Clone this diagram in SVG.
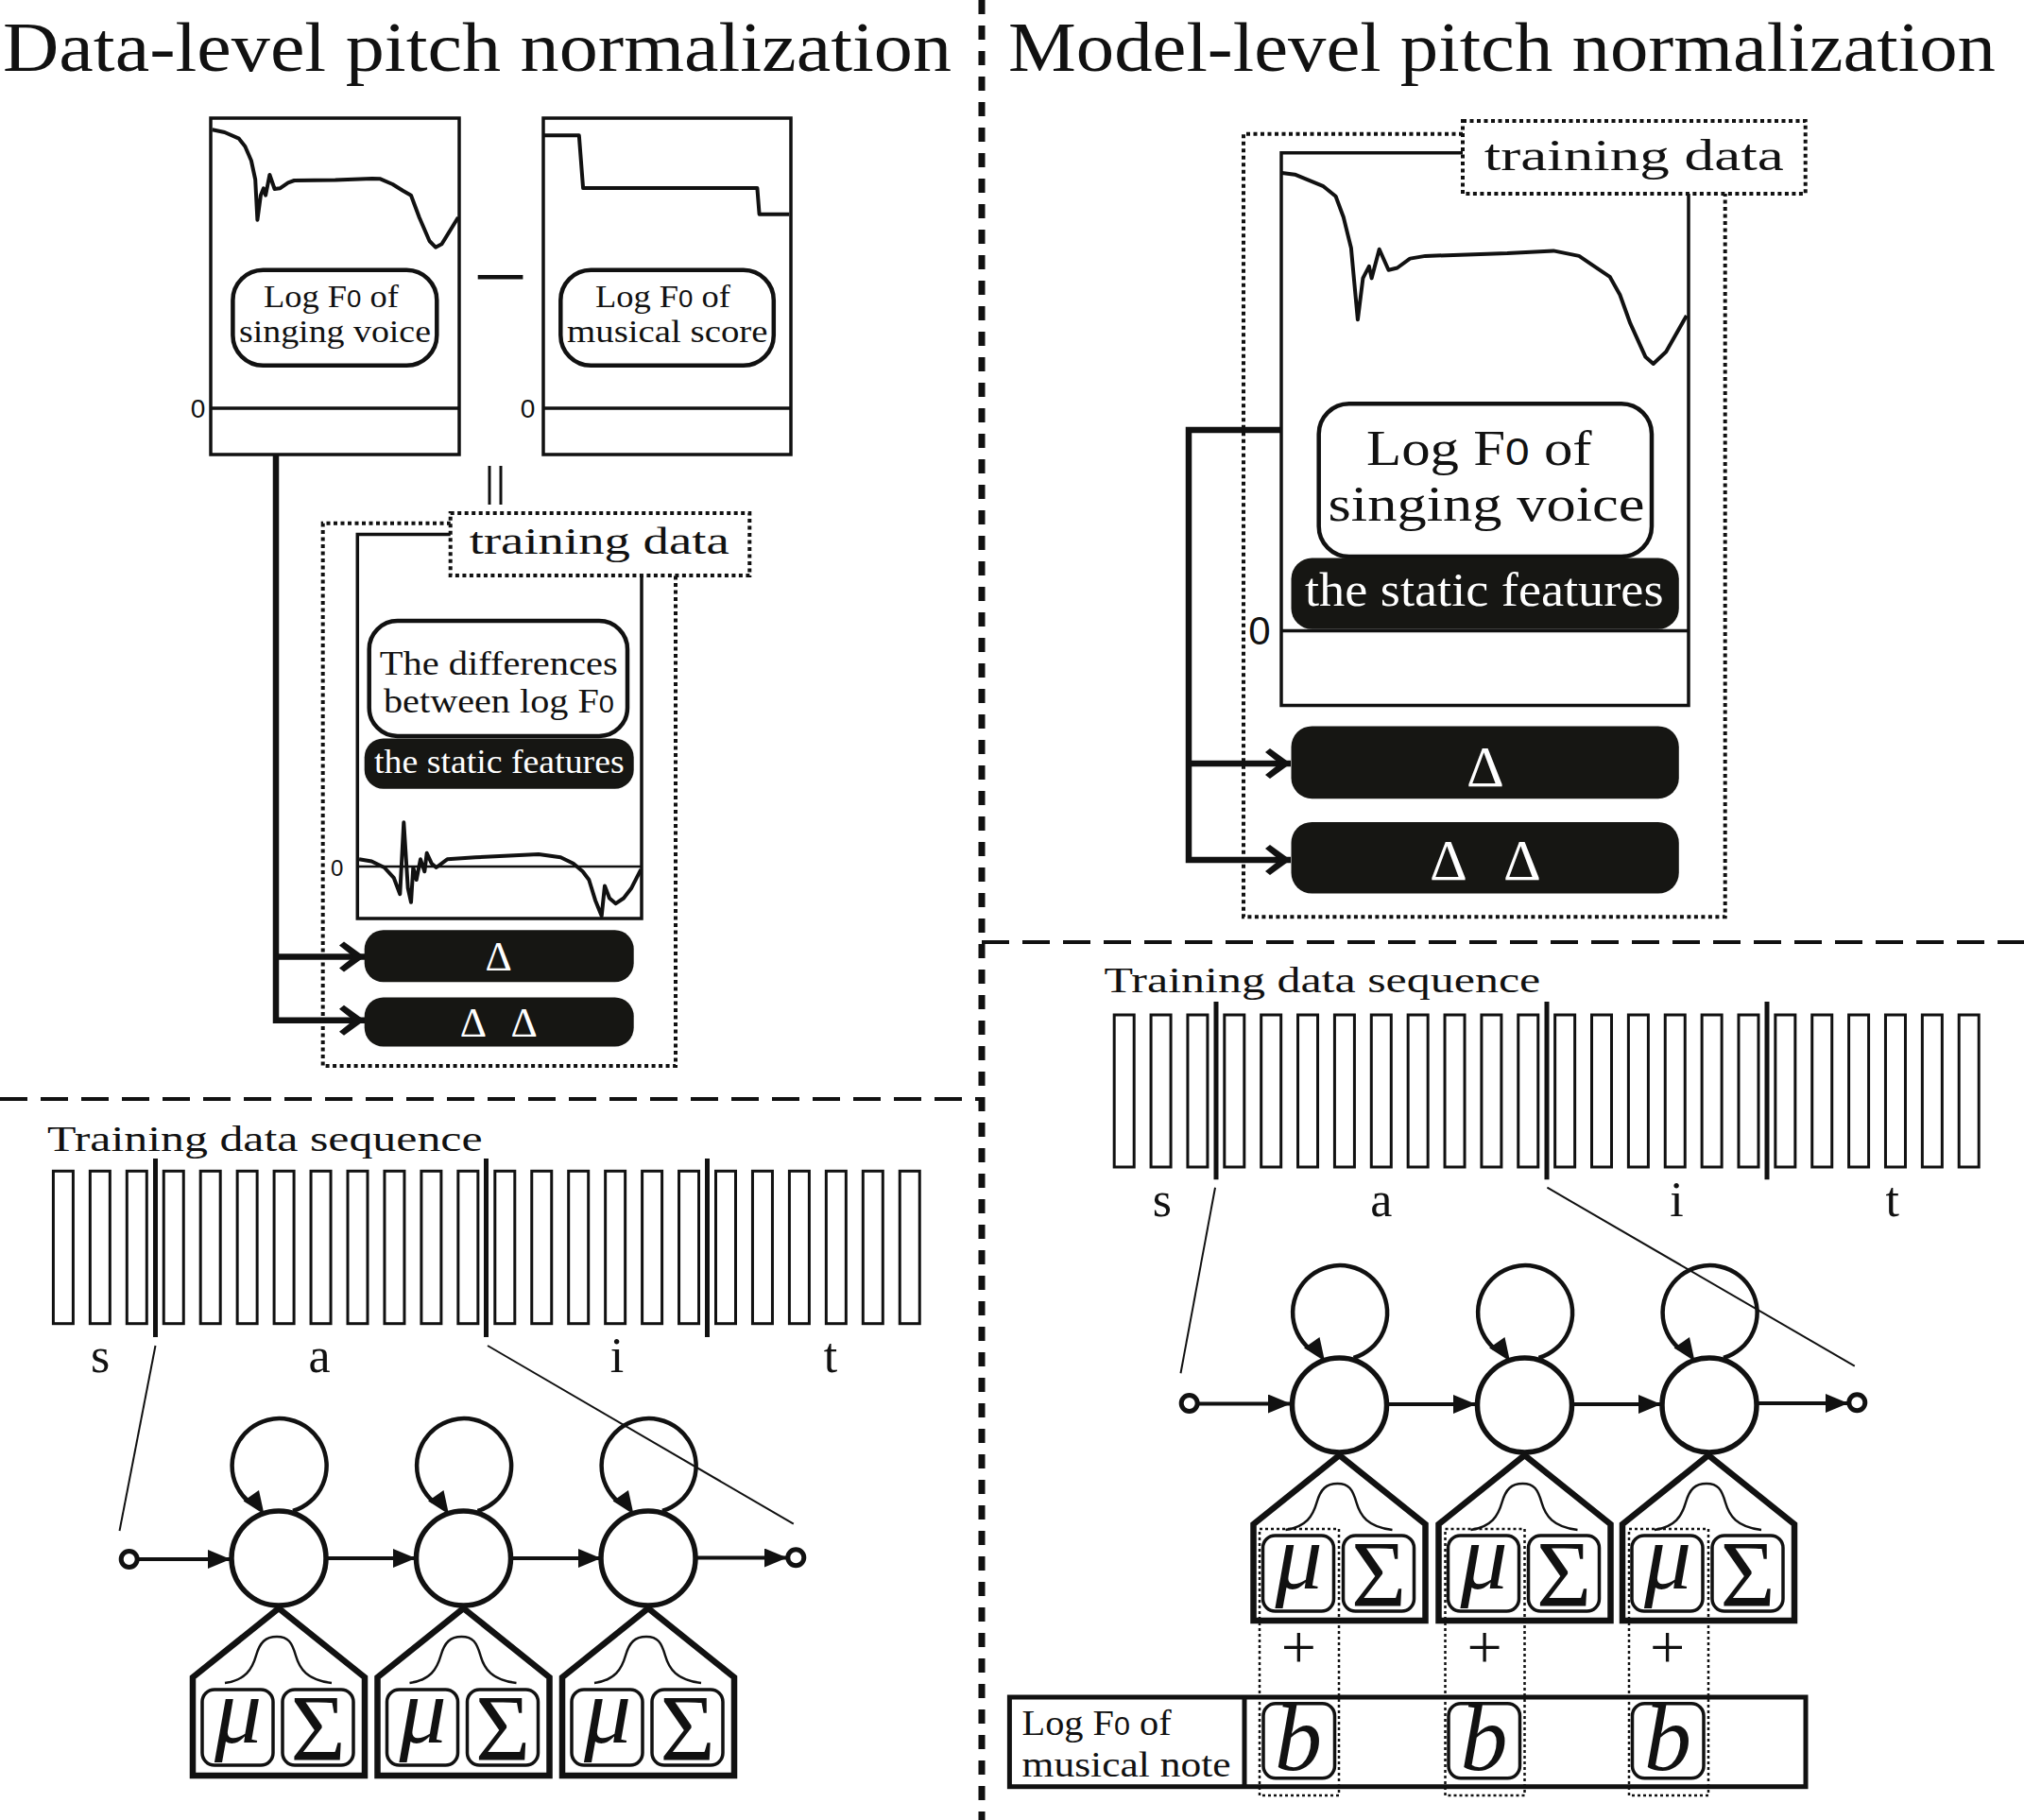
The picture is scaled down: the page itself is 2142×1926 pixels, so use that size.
<svg xmlns="http://www.w3.org/2000/svg" width="2142" height="1926" viewBox="0 0 2142 1926">
<defs>
<style>
.t{font-family:"Liberation Serif","Times New Roman",serif;fill:#111}
.s{font-family:"Liberation Sans",Arial,sans-serif;fill:#111}
.wt{font-family:"Liberation Serif","Times New Roman",serif;fill:#fff}
.box{fill:#fff;stroke:#111;stroke-width:3.5}
.ln{fill:none;stroke:#111;stroke-width:3.5}
.lab{fill:#fff;stroke:#111;stroke-width:4.5}
.blk{fill:#161613}
.dot{fill:none;stroke:#111;stroke-width:4;stroke-dasharray:4 3.5}
.dotw{fill:#fff;stroke:#111;stroke-width:4;stroke-dasharray:4 3.5}
.curve{fill:none;stroke:#111;stroke-width:4;stroke-linejoin:round}
.bar{fill:#fff;stroke:#111;stroke-width:3}
.sep{stroke:#111;stroke-width:5}
.thin{stroke:#111;stroke-width:2;fill:none}
.state{fill:#fff;stroke:#111;stroke-width:5.5}
.ring{fill:#fff;stroke:#111;stroke-width:5}
.loop{fill:none;stroke:#111;stroke-width:4.5}
.arr{stroke:#111;stroke-width:4;fill:none}
.thick{stroke:#111;stroke-width:6.5;fill:none;stroke-linejoin:miter}
.house{fill:#fff;stroke:#111;stroke-width:6.5;stroke-linejoin:miter}
.gauss{fill:none;stroke:#111;stroke-width:2.5}
.pbox{fill:#fff;stroke:#111;stroke-width:3.5}
.cdot{fill:none;stroke:#111;stroke-width:2.5;stroke-dasharray:3 3}
.vdiv{stroke:#111;stroke-width:7;stroke-dasharray:15 12}
.hdiv{stroke:#111;stroke-width:4;stroke-dasharray:29 14}
.ah{fill:#111}
</style>
<marker id="tri" markerUnits="userSpaceOnUse" markerWidth="24" markerHeight="20" refX="24" refY="10" orient="auto"><path d="M0,0 L24,10 L0,20 Z" fill="#111"/></marker>
<marker id="chev" markerUnits="userSpaceOnUse" markerWidth="30" markerHeight="34" refX="28" refY="17" orient="auto"><path d="M28,17 L6,1 L1,5 L16,17 L1,29 L6,33 Z" fill="#111"/></marker>
</defs>
<rect x="0" y="0" width="2142" height="1926" fill="#fff"/>

<g id="dividers">
<line class="vdiv" x1="1039" y1="0" x2="1039" y2="1926"/>
<line class="hdiv" x1="0" y1="1163" x2="1039" y2="1163"/>
<line class="hdiv" x1="1039" y1="997" x2="2142" y2="997"/>
</g>

<g id="titles">
<text class="t" x="3" y="75" font-size="74" textLength="1004" lengthAdjust="spacingAndGlyphs">Data-level pitch normalization</text>
<text class="t" x="1067" y="75" font-size="74" textLength="1045" lengthAdjust="spacingAndGlyphs">Model-level pitch normalization</text>
</g>

<g id="connectors">
<path class="thick" d="M292,481 V1079.7 H386" marker-end="url(#chev)"/>
<path class="thick" d="M292,1012.5 H386" marker-end="url(#chev)"/>
<path class="thick" d="M1356,455 H1258 V910 H1366" marker-end="url(#chev)"/>
<path class="thick" d="M1258,808 H1366" marker-end="url(#chev)"/>
<line x1="518" y1="493" x2="518" y2="534" stroke="#111" stroke-width="3"/>
<line x1="530" y1="493" x2="530" y2="534" stroke="#111" stroke-width="3"/>
<line class="thin" x1="164.5" y1="1424" x2="126.5" y2="1620"/>
<line class="thin" x1="516" y1="1424" x2="839.8" y2="1612.7"/>
<line class="thin" x1="1286" y1="1256.7" x2="1249.5" y2="1453.3"/>
<line class="thin" x1="1637.4" y1="1256.7" x2="1962.8" y2="1445.7"/>
<line class="arr" x1="145" y1="1650" x2="244" y2="1650" marker-end="url(#tri)"/>
<line class="arr" x1="345" y1="1649" x2="440" y2="1649" marker-end="url(#tri)"/>
<line class="arr" x1="540" y1="1649" x2="636" y2="1649" marker-end="url(#tri)"/>
<line class="arr" x1="736" y1="1648.5" x2="833" y2="1648.5" marker-end="url(#tri)"/>
<path class="loop" d="M310,1599 A50,50 0 1 0 263,1589"/>
<polygon class="ah" points="279.5,1602.5 274,1577 257.6,1588.5"/>
<path class="loop" d="M505.5,1599 A50,50 0 1 0 458.5,1589"/>
<polygon class="ah" points="475,1602.5 469.5,1577 453.1,1588.5"/>
<path class="loop" d="M701,1599 A50,50 0 1 0 654,1589"/>
<polygon class="ah" points="670.5,1602.5 665,1577 648.6,1588.5"/>
<line class="arr" x1="1267" y1="1485.5" x2="1366" y2="1485.5" marker-end="url(#tri)"/>
<line class="arr" x1="1467.5" y1="1486" x2="1562" y2="1486" marker-end="url(#tri)"/>
<line class="arr" x1="1663.5" y1="1486" x2="1758" y2="1486" marker-end="url(#tri)"/>
<line class="arr" x1="1859" y1="1485" x2="1956" y2="1485" marker-end="url(#tri)"/>
<path class="loop" d="M1432.5,1437 A50,50 0 1 0 1385.5,1427"/>
<polygon class="ah" points="1402,1440.5 1396.5,1415 1380.1,1426.5"/>
<path class="loop" d="M1628.5,1437 A50,50 0 1 0 1581.5,1427"/>
<polygon class="ah" points="1598,1440.5 1592.5,1415 1576.1,1426.5"/>
<path class="loop" d="M1824,1437 A50,50 0 1 0 1777,1427"/>
<polygon class="ah" points="1793.5,1440.5 1788,1415 1771.6,1426.5"/>
</g>

<g id="box-singing-voice">
<rect class="box" x="223" y="125" width="263" height="356"/>
<line class="ln" x1="223" y1="432" x2="486" y2="432"/>
<path class="curve" d="M224.7,137.3 L237.7,140 L252.9,146.7 L259.4,155 L265.9,170 L270.2,190 L272.4,232.7 L275.9,206.7 L278.9,199.3 L281.1,206.7 L285.4,185 L290.6,200 L296.2,199.3 L304.9,193.3 L311.4,191 L354.8,190.5 L393.8,189 L402.5,189.3 L415.5,195 L426.3,201.7 L435,206.7 L443.7,230 L454.5,255 L461,261.7 L467.5,258.3 L484.9,230"/>
<rect class="lab" x="246.4" y="285.7" width="215.9" height="101" rx="32"/>
<text class="t" x="279" y="325" font-size="33" textLength="143" lengthAdjust="spacingAndGlyphs">Log F<tspan class="s" font-size="25">0</tspan> of</text>
<text class="t" x="253" y="362" font-size="33" textLength="203" lengthAdjust="spacingAndGlyphs">singing voice</text>
<text class="s" x="209.5" y="441.7" font-size="28" text-anchor="middle">0</text>
</g>

<g id="minus">
<line x1="505.7" y1="293.3" x2="553.4" y2="293.3" stroke="#111" stroke-width="4.5"/>
</g>

<g id="box-musical-score">
<rect class="box" x="575" y="125" width="262" height="356"/>
<line class="ln" x1="575" y1="432" x2="837" y2="432"/>
<path class="curve" d="M576,143.3 H612.8 L617.1,199 H801.4 L803.6,226.7 H835.3"/>
<rect class="lab" x="593.3" y="285.7" width="225.5" height="101" rx="32"/>
<text class="t" x="630" y="325" font-size="33" textLength="143" lengthAdjust="spacingAndGlyphs">Log F<tspan class="s" font-size="25">0</tspan> of</text>
<text class="t" x="600" y="362" font-size="33" textLength="212.5" lengthAdjust="spacingAndGlyphs">musical score</text>
<text class="s" x="558.6" y="441.7" font-size="28" text-anchor="middle">0</text>
</g>

<g id="training-data-left">
<path class="dot" d="M477,553.7 H341.7 V1128 H715 V609"/>
<path class="ln" d="M477,565.4 H378.3 V972 H679 V609"/>
<rect class="dotw" x="476.7" y="543" width="316.6" height="66"/>
<text class="t" x="496.7" y="586" font-size="40" textLength="275" lengthAdjust="spacingAndGlyphs">training data</text>
<rect class="lab" x="390.7" y="657" width="273.3" height="122" rx="30"/>
<text class="t" x="401.7" y="713.5" font-size="36" textLength="252" lengthAdjust="spacingAndGlyphs">The differences</text>
<text class="t" x="406" y="754" font-size="36" textLength="244" lengthAdjust="spacingAndGlyphs">between log F<tspan class="s" font-size="26">0</tspan></text>
<rect class="blk" x="385.7" y="781.4" width="285" height="53.3" rx="20"/>
<text class="wt" x="396" y="818.3" font-size="36" textLength="264.7" lengthAdjust="spacingAndGlyphs">the static features</text>
<line x1="378.3" y1="917" x2="679" y2="917" stroke="#111" stroke-width="2.5"/>
<path class="curve" d="M380,909.3 L393.3,911.5 L406.7,918 L416.7,928.8 L423.3,946.2 L427.3,870.3 L431.7,939.7 L435,954.8 L437.3,918 L440.7,931 L445,909.3 L449.3,922.3 L451.7,902.8 L456.7,913.7 L461.7,918 L473.3,909.3 L503.3,907.2 L570,904.1 L593.3,907.2 L606.7,913.7 L616.7,922.3 L623.3,931 L630,952.7 L636.7,969.2 L640,937.5 L645,950.5 L651.7,956.2 L660,950.5 L668.3,939.7 L678.3,920.2"/>
<text class="s" x="356.7" y="926.7" font-size="24" text-anchor="middle">0</text>
</g>

<g id="delta-left">
<rect class="blk" x="385.7" y="984.3" width="285" height="55" rx="20"/>
<text class="wt" x="527.7" y="1027" font-size="44" text-anchor="middle">Δ</text>
</g>
<g id="deltadelta-left">
<rect class="blk" x="385.7" y="1055.5" width="285" height="52" rx="20"/>
<text class="wt" x="500.8" y="1096.7" font-size="44" text-anchor="middle">Δ</text>
<text class="wt" x="554.7" y="1096.7" font-size="44" text-anchor="middle">Δ</text>
</g>

<g id="training-data-right">
<path class="dot" stroke-width="3.5" d="M1548,141.7 H1316 V970.3 H1825.7 V205"/>
<path class="ln" d="M1548,161.7 H1356 V746.4 H1787 V205"/>
<rect class="dotw" x="1548" y="128" width="362.7" height="77"/>
<text class="t" x="1570.7" y="179.6" font-size="46" textLength="317" lengthAdjust="spacingAndGlyphs">training data</text>
<path class="curve" stroke-width="3.5" d="M1356.7,183 L1370.3,184.7 L1400,196.8 L1413.6,207.8 L1421.8,229.7 L1429.9,262.6 L1436.9,338.3 L1442.4,294.4 L1448.9,281.8 L1451.6,294.4 L1459.7,263.7 L1469.5,285.7 L1478.7,283.5 L1492.2,273.6 L1508.5,270.9 L1595.2,268.1 L1644,265.4 L1671.1,270.9 L1687.3,281.8 L1703.6,292.8 L1714.4,312 L1725.3,342.2 L1741.5,377.8 L1749.7,385 L1763.2,372.3 L1784.9,333.9"/>
<rect class="lab" x="1395.7" y="427.2" width="352.3" height="161.8" rx="32"/>
<text class="t" x="1446" y="492" font-size="53" textLength="238.6" lengthAdjust="spacingAndGlyphs">Log F<tspan class="s" font-size="40">0</tspan> of</text>
<text class="t" x="1405.5" y="551" font-size="53" textLength="335" lengthAdjust="spacingAndGlyphs">singing voice</text>
<rect class="blk" x="1366.5" y="590.6" width="410.3" height="75.2" rx="22"/>
<text class="wt" x="1381" y="641.1" font-size="50" textLength="379.5" lengthAdjust="spacingAndGlyphs">the static features</text>
<line class="ln" x1="1356" y1="667.5" x2="1787" y2="667.5"/>
<text class="s" x="1333" y="682" font-size="42" text-anchor="middle">0</text>
</g>

<g id="delta-right">
<rect class="blk" x="1366.5" y="768.4" width="410.3" height="76.8" rx="22"/>
<text class="wt" x="1571.9" y="832" font-size="62" text-anchor="middle">Δ</text>
</g>
<g id="deltadelta-right">
<rect class="blk" x="1366.5" y="869.9" width="410.3" height="75.7" rx="22"/>
<text class="wt" x="1532.9" y="930.7" font-size="62" text-anchor="middle">Δ</text>
<text class="wt" x="1611" y="930.7" font-size="62" text-anchor="middle">Δ</text>
</g>

<g id="sequence-left">
<text class="t" x="50" y="1218.3" font-size="38" textLength="460.6" lengthAdjust="spacingAndGlyphs">Training data sequence</text>
<rect class="bar" x="56.4" y="1239.3" width="21" height="161.4"/>
<rect class="bar" x="95.35" y="1239.3" width="21" height="161.4"/>
<rect class="bar" x="134.3" y="1239.3" width="21" height="161.4"/>
<rect class="bar" x="173.25" y="1239.3" width="21" height="161.4"/>
<rect class="bar" x="212.2" y="1239.3" width="21" height="161.4"/>
<rect class="bar" x="251.15" y="1239.3" width="21" height="161.4"/>
<rect class="bar" x="290.1" y="1239.3" width="21" height="161.4"/>
<rect class="bar" x="329.05" y="1239.3" width="21" height="161.4"/>
<rect class="bar" x="368" y="1239.3" width="21" height="161.4"/>
<rect class="bar" x="406.95" y="1239.3" width="21" height="161.4"/>
<rect class="bar" x="445.9" y="1239.3" width="21" height="161.4"/>
<rect class="bar" x="484.85" y="1239.3" width="21" height="161.4"/>
<rect class="bar" x="523.8" y="1239.3" width="21" height="161.4"/>
<rect class="bar" x="562.75" y="1239.3" width="21" height="161.4"/>
<rect class="bar" x="601.7" y="1239.3" width="21" height="161.4"/>
<rect class="bar" x="640.65" y="1239.3" width="21" height="161.4"/>
<rect class="bar" x="679.6" y="1239.3" width="21" height="161.4"/>
<rect class="bar" x="718.55" y="1239.3" width="21" height="161.4"/>
<rect class="bar" x="757.5" y="1239.3" width="21" height="161.4"/>
<rect class="bar" x="796.45" y="1239.3" width="21" height="161.4"/>
<rect class="bar" x="835.4" y="1239.3" width="21" height="161.4"/>
<rect class="bar" x="874.35" y="1239.3" width="21" height="161.4"/>
<rect class="bar" x="913.3" y="1239.3" width="21" height="161.4"/>
<rect class="bar" x="952.25" y="1239.3" width="21" height="161.4"/>
<line class="sep" x1="164.5" y1="1226" x2="164.5" y2="1415"/>
<line class="sep" x1="514.5" y1="1226" x2="514.5" y2="1415"/>
<line class="sep" x1="748.5" y1="1226" x2="748.5" y2="1415"/>
<text class="t" x="106" y="1451.7" font-size="52" text-anchor="middle">s</text>
<text class="t" x="338" y="1451.7" font-size="52" text-anchor="middle">a</text>
<text class="t" x="653" y="1451.7" font-size="52" text-anchor="middle">i</text>
<text class="t" x="879" y="1451.7" font-size="52" text-anchor="middle">t</text>
</g>

<g id="left-start"><circle class="ring" cx="136.7" cy="1650" r="8.5"/></g>
<g id="left-end"><circle class="ring" cx="842.3" cy="1648.3" r="8.5"/></g>
<g id="left-state1"><circle class="state" cx="295" cy="1649" r="50"/></g>
<g id="left-state2"><circle class="state" cx="490.5" cy="1649" r="50"/></g>
<g id="left-state3"><circle class="state" cx="686" cy="1649" r="50"/></g>

<g id="left-output1" transform="translate(295,1702)">
<polygon class="house" points="0,0 91,73 91,177 -91,177 -91,73"/>
<path class="gauss" d="M-57,79 C-35,76 -28,64 -24,50 C-20,36 -14,30 -2,30 C10,30 14,36 18,50 C22,64 30,76 56,79"/>
<rect class="pbox" x="-81" y="86" width="75" height="80" rx="13"/>
<rect class="pbox" x="4" y="86" width="75" height="80" rx="13"/>
<text class="t" x="-43" y="142" font-size="100" font-style="italic" text-anchor="middle">μ</text>
<text class="t" x="41.5" y="160" font-size="100" text-anchor="middle">Σ</text>
</g>
<g id="left-output2" transform="translate(490.5,1702)">
<polygon class="house" points="0,0 91,73 91,177 -91,177 -91,73"/>
<path class="gauss" d="M-57,79 C-35,76 -28,64 -24,50 C-20,36 -14,30 -2,30 C10,30 14,36 18,50 C22,64 30,76 56,79"/>
<rect class="pbox" x="-81" y="86" width="75" height="80" rx="13"/>
<rect class="pbox" x="4" y="86" width="75" height="80" rx="13"/>
<text class="t" x="-43" y="142" font-size="100" font-style="italic" text-anchor="middle">μ</text>
<text class="t" x="41.5" y="160" font-size="100" text-anchor="middle">Σ</text>
</g>
<g id="left-output3" transform="translate(686,1702)">
<polygon class="house" points="0,0 91,73 91,177 -91,177 -91,73"/>
<path class="gauss" d="M-57,79 C-35,76 -28,64 -24,50 C-20,36 -14,30 -2,30 C10,30 14,36 18,50 C22,64 30,76 56,79"/>
<rect class="pbox" x="-81" y="86" width="75" height="80" rx="13"/>
<rect class="pbox" x="4" y="86" width="75" height="80" rx="13"/>
<text class="t" x="-43" y="142" font-size="100" font-style="italic" text-anchor="middle">μ</text>
<text class="t" x="41.5" y="160" font-size="100" text-anchor="middle">Σ</text>
</g>

<g id="sequence-right">
<text class="t" x="1168.6" y="1050" font-size="38" textLength="461.7" lengthAdjust="spacingAndGlyphs">Training data sequence</text>
<rect class="bar" x="1179.2" y="1074" width="21" height="161"/>
<rect class="bar" x="1218.07" y="1074" width="21" height="161"/>
<rect class="bar" x="1256.94" y="1074" width="21" height="161"/>
<rect class="bar" x="1295.81" y="1074" width="21" height="161"/>
<rect class="bar" x="1334.68" y="1074" width="21" height="161"/>
<rect class="bar" x="1373.55" y="1074" width="21" height="161"/>
<rect class="bar" x="1412.42" y="1074" width="21" height="161"/>
<rect class="bar" x="1451.29" y="1074" width="21" height="161"/>
<rect class="bar" x="1490.16" y="1074" width="21" height="161"/>
<rect class="bar" x="1529.03" y="1074" width="21" height="161"/>
<rect class="bar" x="1567.9" y="1074" width="21" height="161"/>
<rect class="bar" x="1606.77" y="1074" width="21" height="161"/>
<rect class="bar" x="1645.64" y="1074" width="21" height="161"/>
<rect class="bar" x="1684.51" y="1074" width="21" height="161"/>
<rect class="bar" x="1723.38" y="1074" width="21" height="161"/>
<rect class="bar" x="1762.25" y="1074" width="21" height="161"/>
<rect class="bar" x="1801.12" y="1074" width="21" height="161"/>
<rect class="bar" x="1839.99" y="1074" width="21" height="161"/>
<rect class="bar" x="1878.86" y="1074" width="21" height="161"/>
<rect class="bar" x="1917.73" y="1074" width="21" height="161"/>
<rect class="bar" x="1956.6" y="1074" width="21" height="161"/>
<rect class="bar" x="1995.47" y="1074" width="21" height="161"/>
<rect class="bar" x="2034.34" y="1074" width="21" height="161"/>
<rect class="bar" x="2073.21" y="1074" width="21" height="161"/>
<line class="sep" x1="1287" y1="1060" x2="1287" y2="1248.3"/>
<line class="sep" x1="1637" y1="1060" x2="1637" y2="1248.3"/>
<line class="sep" x1="1870" y1="1060" x2="1870" y2="1248.3"/>
<text class="t" x="1229.8" y="1286.7" font-size="52" text-anchor="middle">s</text>
<text class="t" x="1461.7" y="1286.7" font-size="52" text-anchor="middle">a</text>
<text class="t" x="1774.4" y="1286.7" font-size="52" text-anchor="middle">i</text>
<text class="t" x="2002.8" y="1286.7" font-size="52" text-anchor="middle">t</text>
</g>

<g id="right-start"><circle class="ring" cx="1258.7" cy="1485" r="8.5"/></g>
<g id="right-end"><circle class="ring" cx="1965.3" cy="1484.3" r="8.5"/></g>
<g id="right-state1"><circle class="state" cx="1417.5" cy="1487" r="50"/></g>
<g id="right-state2"><circle class="state" cx="1613.5" cy="1487" r="50"/></g>
<g id="right-state3"><circle class="state" cx="1809" cy="1487" r="50"/></g>

<g id="right-output1" transform="translate(1417.5,1540)">
<polygon class="house" points="0,0 91,73 91,175 -91,175 -91,73"/>
<path class="gauss" d="M-57,79 C-35,76 -28,64 -24,50 C-20,36 -14,30 -2,30 C10,30 14,36 18,50 C22,64 30,76 56,79"/>
<rect class="pbox" x="-81" y="85" width="75" height="80" rx="13"/>
<rect class="pbox" x="4" y="85" width="75" height="80" rx="13"/>
<text class="t" x="-43" y="141" font-size="100" font-style="italic" text-anchor="middle">μ</text>
<text class="t" x="41.5" y="159" font-size="100" text-anchor="middle">Σ</text>
</g>
<g id="right-output2" transform="translate(1613.5,1540)">
<polygon class="house" points="0,0 91,73 91,175 -91,175 -91,73"/>
<path class="gauss" d="M-57,79 C-35,76 -28,64 -24,50 C-20,36 -14,30 -2,30 C10,30 14,36 18,50 C22,64 30,76 56,79"/>
<rect class="pbox" x="-81" y="85" width="75" height="80" rx="13"/>
<rect class="pbox" x="4" y="85" width="75" height="80" rx="13"/>
<text class="t" x="-43" y="141" font-size="100" font-style="italic" text-anchor="middle">μ</text>
<text class="t" x="41.5" y="159" font-size="100" text-anchor="middle">Σ</text>
</g>
<g id="right-output3" transform="translate(1808,1540)">
<polygon class="house" points="0,0 91,73 91,175 -91,175 -91,73"/>
<path class="gauss" d="M-57,79 C-35,76 -28,64 -24,50 C-20,36 -14,30 -2,30 C10,30 14,36 18,50 C22,64 30,76 56,79"/>
<rect class="pbox" x="-81" y="85" width="75" height="80" rx="13"/>
<rect class="pbox" x="4" y="85" width="75" height="80" rx="13"/>
<text class="t" x="-43" y="141" font-size="100" font-style="italic" text-anchor="middle">μ</text>
<text class="t" x="41.5" y="159" font-size="100" text-anchor="middle">Σ</text>
</g>

<g id="musical-note-row">
<rect x="1068.4" y="1796" width="842.6" height="94.7" fill="#fff" stroke="#111" stroke-width="5"/>
<line x1="1317" y1="1796" x2="1317" y2="1890.7" stroke="#111" stroke-width="5"/>
<text class="t" x="1081.6" y="1835.5" font-size="37" textLength="158" lengthAdjust="spacingAndGlyphs">Log F<tspan class="s" font-size="28">0</tspan> of</text>
<text class="t" x="1081.6" y="1879.5" font-size="37" textLength="221" lengthAdjust="spacingAndGlyphs">musical note</text>
</g>

<g id="bias1">
<rect class="pbox" x="1337" y="1802.7" width="75.5" height="79" rx="13"/>
<text class="t" x="1374" y="1873" font-size="100" font-style="italic" text-anchor="middle">b</text>
<text class="t" x="1374.3" y="1765" font-size="66" text-anchor="middle">+</text>
<rect class="cdot" x="1333" y="1618" width="84" height="282"/>
</g>
<g id="bias2">
<rect class="pbox" x="1533" y="1802.7" width="75.5" height="79" rx="13"/>
<text class="t" x="1570.5" y="1873" font-size="100" font-style="italic" text-anchor="middle">b</text>
<text class="t" x="1571.2" y="1765" font-size="66" text-anchor="middle">+</text>
<rect class="cdot" x="1529.5" y="1618" width="84" height="282"/>
</g>
<g id="bias3">
<rect class="pbox" x="1727.5" y="1802.7" width="75.5" height="79" rx="13"/>
<text class="t" x="1765" y="1873" font-size="100" font-style="italic" text-anchor="middle">b</text>
<text class="t" x="1764.7" y="1765" font-size="66" text-anchor="middle">+</text>
<rect class="cdot" x="1724" y="1618" width="84" height="282"/>
</g>
</svg>
